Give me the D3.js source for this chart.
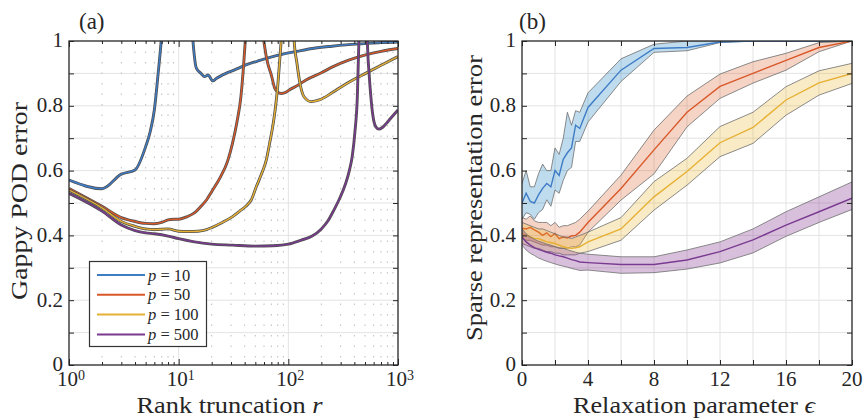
<!DOCTYPE html>
<html>
<head>
<meta charset="utf-8">
<script src="https://cdn.jsdelivr.net/npm/d3@7"></script>
<style>
  body { margin: 0; background: #fff; }
  text { font-family: "Liberation Serif", "DejaVu Serif", serif; fill: #262626; }
</style>
</head>
<body>
<div id="chart"></div>
<script>
// 1: DATA
const pValues = [10, 50, 100, 500];
const colors = ["#3f7cc6", "#d9582a", "#e6b034", "#7a3a90"];
const bandFills = ["rgba(0,114,189,0.25)", "rgba(217,83,25,0.25)", "rgba(237,177,32,0.25)", "rgba(126,47,142,0.3)"];

// (a) gappy POD error vs rank truncation r
const rankP10 = [1,2,3,4,5,5.5,6,6.5,7,8,12,13,13.5,14.5,16,17.2,18.5,20.5,22,23.6,27,32,41,55,83,120,166,250,334,500,700,1000];
const gappyP10 = [0.571,0.544,0.589,0.602,0.674,0.72,0.787,0.9,1.02,1.4,1.4,1.08,1.0,0.916,0.9,0.89,0.895,0.877,0.884,0.89,0.9,0.91,0.926,0.94,0.957,0.968,0.977,0.984,0.988,0.992,0.995,0.997];
const rankP50 = [1,2,3,4,5,6,7,8,9,10,12,14,16,18,20,24,28,31,34,37,39,40.5,45,55,58,61,65,70,75,80,86,95,102,120,145,200,253,350,506,700,1000];
const gappyP50 = [0.545,0.49,0.455,0.443,0.437,0.436,0.44,0.448,0.45,0.45,0.458,0.47,0.49,0.51,0.535,0.58,0.63,0.685,0.75,0.83,0.92,1.0,1.3,1.3,1.05,0.98,0.93,0.895,0.855,0.842,0.838,0.842,0.849,0.862,0.88,0.902,0.92,0.94,0.957,0.968,0.977];
const rankP100 = [1,2,3,4,5,6,8,10,12,15,18,20,25,31,36,41,46,51,57,63,68,72,76,80,83,86,95,108,113,120,126,139,161,191,250,290,380,506,700,1000];
const gappyP100 = [0.54,0.485,0.443,0.428,0.42,0.418,0.42,0.413,0.412,0.413,0.418,0.424,0.44,0.458,0.475,0.49,0.51,0.55,0.59,0.633,0.69,0.735,0.79,0.86,0.93,1.0,1.3,1.3,1.0,0.93,0.88,0.828,0.813,0.818,0.84,0.854,0.878,0.9,0.925,0.952];
const rankP500 = [1,2,3,4,5,6,8,10,13.5,20,31,50,72,100,130,165,200,230,260,290,333,360,383,405,426,440,460,510,526,545,565,590,628,670,720,780,850,1000];
const gappyP500 = [0.53,0.475,0.432,0.415,0.408,0.405,0.398,0.39,0.381,0.373,0.37,0.367,0.368,0.373,0.385,0.398,0.42,0.445,0.478,0.51,0.56,0.6,0.645,0.72,0.83,1.0,1.3,1.3,1.0,0.9,0.83,0.77,0.735,0.728,0.733,0.745,0.76,0.787];

// (b) sparse representation error vs relaxation parameter
const epsValues = [0,0.25,0.5,0.75,1,1.25,1.5,1.75,2,2.25,2.5,2.75,3,3.25,3.5,4,6,8,10,12,14,16,18,20];
const sparseP10   = [0.50,0.53,0.505,0.50,0.525,0.545,0.56,0.55,0.60,0.585,0.635,0.655,0.67,0.74,0.73,0.795,0.91,0.977,0.98,0.997,1,1,1,1];
const sparseP10Hi = [0.56,0.60,0.55,0.55,0.59,0.62,0.60,0.60,0.67,0.65,0.70,0.78,0.74,0.785,0.78,0.84,0.945,0.99,1,1,1,1,1,1];
const sparseP10Lo = [0.45,0.47,0.465,0.45,0.47,0.48,0.51,0.49,0.54,0.53,0.57,0.60,0.61,0.69,0.69,0.75,0.875,0.965,0.97,0.995,1,1,1,1];
const sparseP50   = [0.422,0.42,0.425,0.417,0.41,0.40,0.408,0.396,0.406,0.39,0.395,0.392,0.398,0.40,0.41,0.44,0.545,0.664,0.78,0.86,0.90,0.94,0.98,1.0];
const sparseP50Hi = [0.455,0.45,0.46,0.445,0.44,0.44,0.44,0.43,0.44,0.425,0.43,0.43,0.435,0.44,0.45,0.475,0.586,0.725,0.83,0.898,0.936,0.962,0.995,1.0];
const sparseP50Lo = [0.39,0.385,0.385,0.38,0.375,0.37,0.37,0.365,0.365,0.36,0.36,0.36,0.365,0.365,0.37,0.41,0.509,0.59,0.735,0.823,0.87,0.91,0.967,1.0];
const sparseP100   = [0.406,0.40,0.395,0.39,0.39,0.385,0.38,0.378,0.375,0.37,0.365,0.362,0.36,0.362,0.365,0.38,0.42,0.519,0.597,0.686,0.733,0.818,0.871,0.90];
const sparseP100Hi = [0.44,0.435,0.43,0.425,0.42,0.42,0.415,0.41,0.405,0.40,0.395,0.395,0.39,0.395,0.40,0.41,0.455,0.566,0.638,0.736,0.78,0.859,0.908,0.931];
const sparseP100Lo = [0.375,0.37,0.365,0.36,0.36,0.355,0.35,0.35,0.345,0.345,0.34,0.34,0.34,0.34,0.345,0.35,0.385,0.478,0.555,0.643,0.684,0.771,0.833,0.869];
const sparseP500   = [0.395,0.38,0.37,0.362,0.357,0.352,0.348,0.345,0.34,0.337,0.334,0.33,0.325,0.322,0.318,0.316,0.31,0.31,0.324,0.35,0.386,0.432,0.473,0.515];
const sparseP500Hi = [0.42,0.405,0.395,0.388,0.382,0.378,0.373,0.37,0.365,0.362,0.36,0.356,0.352,0.348,0.345,0.342,0.334,0.334,0.355,0.38,0.42,0.473,0.519,0.565];
const sparseP500Lo = [0.37,0.355,0.345,0.338,0.33,0.325,0.32,0.316,0.312,0.308,0.305,0.302,0.298,0.295,0.292,0.293,0.283,0.285,0.296,0.315,0.346,0.397,0.44,0.48];

// ticks
const yTicks = [0, 0.2, 0.4, 0.6, 0.8, 1];
const yTicksMinor = [0,0.1,0.2,0.3,0.4,0.5,0.6,0.7,0.8,0.9,1];
const rankDecades = [1, 10, 100, 1000];
const rankMinor = [2,3,4,5,6,7,8,9,20,30,40,50,60,70,80,90,200,300,400,500,600,700,800,900];
const epsTicks = [0, 4, 8, 12, 16, 20];
const epsTicksMinor = [0,2,4,6,8,10,12,14,16,18,20];

// 2: LAYOUT
const width = 863, height = 420;
const plotTop = 41, plotBottom = 365;
const plotA = { left: 69, right: 398 };
const plotB = { left: 522, right: 852 };
const axisColor = "#262626";
const gridColor = "#e3e3e3";

const svg = d3.select("#chart").append("svg")
    .attr("width", width)
    .attr("height", height);

const xA = d3.scaleLog().domain([1, 1000]).range([plotA.left, plotA.right]);
const xB = d3.scaleLinear().domain([0, 20]).range([plotB.left, plotB.right]);
const y = d3.scaleLinear().domain([0, 1]).range([plotBottom, plotTop]);

const defs = svg.append("defs");
[["clipA", plotA], ["clipB", plotB]].forEach(([id, p]) => {
    defs.append("clipPath").attr("id", id).append("rect")
        .attr("x", p.left).attr("y", plotTop)
        .attr("width", p.right - p.left).attr("height", plotBottom - plotTop);
});

function hGrid(g, p) {
    g.selectAll(null).data(yTicksMinor.slice(1, -1)).enter().append("line")
        .attr("x1", p.left).attr("x2", p.right)
        .attr("y1", d => y(d)).attr("y2", d => y(d))
        .attr("stroke", gridColor).attr("stroke-width", 1);
}

function styleAxis(g) {
    g.select(".domain").remove();
    g.selectAll("line").attr("stroke", axisColor).attr("stroke-width", 1);
}

function yAxes(p) {
    svg.append("g").attr("transform", `translate(${p.left},0)`)
        .call(d3.axisLeft(y).tickValues(yTicksMinor).tickSize(-5).tickFormat(""))
        .call(styleAxis);
    svg.append("g").attr("transform", `translate(${p.right},0)`)
        .call(d3.axisRight(y).tickValues(yTicksMinor).tickSize(-5).tickFormat(""))
        .call(styleAxis);
    svg.append("g").selectAll("text").data(yTicks).enter().append("text")
        .attr("x", p.left - 6).attr("y", d => y(d)).attr("dy", "0.3em")
        .attr("text-anchor", "end").style("font-size", "21px")
        .text(d => d3.format("~g")(d));
}

function frame(p) {
    svg.append("rect")
        .attr("x", p.left).attr("y", plotTop)
        .attr("width", p.right - p.left).attr("height", plotBottom - plotTop)
        .attr("fill", "none").attr("stroke", axisColor).attr("stroke-width", 1.3);
}

// 3: PANEL (a)
const gridA = svg.append("g");
hGrid(gridA, plotA);
gridA.selectAll(null).data(rankMinor).enter().append("line")
    .attr("x1", d => xA(d)).attr("x2", d => xA(d))
    .attr("y1", plotTop).attr("y2", plotBottom)
    .attr("stroke", "#bdbdbd").attr("stroke-width", 1).attr("stroke-dasharray", "1.5,9");
gridA.selectAll(null).data([10, 100]).enter().append("line")
    .attr("x1", d => xA(d)).attr("x2", d => xA(d))
    .attr("y1", plotTop).attr("y2", plotBottom)
    .attr("stroke", gridColor).attr("stroke-width", 1);

const seriesA = [
    { r: rankP10, v: gappyP10 },
    { r: rankP50, v: gappyP50 },
    { r: rankP100, v: gappyP100 },
    { r: rankP500, v: gappyP500 }
];
const lineA = d3.line()
    .x(d => xA(d[0]))
    .y(d => y(d[1]))
    .curve(d3.curveMonotoneX);
const linesA = svg.append("g").attr("clip-path", "url(#clipA)");
seriesA.forEach((s, i) => {
    const pts = s.r.map((r, k) => [r, s.v[k]]);
    linesA.append("path").datum(pts)
        .attr("fill", "none").attr("stroke", "#505050").attr("stroke-width", 2.9)
        .attr("d", lineA);
    linesA.append("path").datum(pts)
        .attr("fill", "none").attr("stroke", colors[i]).attr("stroke-width", 1.4)
        .attr("d", lineA);
});

// axes (a)
svg.append("g").attr("transform", `translate(0,${plotBottom})`)
    .call(d3.axisBottom(xA).tickValues(rankDecades).tickSize(-6).tickFormat(""))
    .call(styleAxis);
svg.append("g").attr("transform", `translate(0,${plotBottom})`)
    .call(d3.axisBottom(xA).tickValues(rankMinor).tickSize(-3).tickFormat(""))
    .call(styleAxis);
svg.append("g").attr("transform", `translate(0,${plotTop})`)
    .call(d3.axisTop(xA).tickValues(rankDecades).tickSize(-6).tickFormat(""))
    .call(styleAxis);
svg.append("g").attr("transform", `translate(0,${plotTop})`)
    .call(d3.axisTop(xA).tickValues(rankMinor).tickSize(-3).tickFormat(""))
    .call(styleAxis);
yAxes(plotA);
frame(plotA);

const xLabA = svg.append("g").selectAll("text").data(rankDecades).enter().append("text")
    .attr("x", d => xA(d) + 2).attr("y", 386)
    .attr("text-anchor", "middle").style("font-size", "21px");
xLabA.append("tspan").text("10");
xLabA.append("tspan").attr("dy", "-0.45em").style("font-size", "14px")
    .text(d => Math.round(Math.log10(d)));

// legend
const legend = svg.append("g");
legend.append("rect")
    .attr("x", 89.5).attr("y", 261.5).attr("width", 117).attr("height", 85)
    .attr("fill", "#fff").attr("stroke", "#333").attr("stroke-width", 1.2);
const legRows = legend.selectAll("g").data(pValues).enter().append("g")
    .attr("transform", (d, i) => `translate(0,${275 + i * 19.8})`);
legRows.append("line")
    .attr("x1", 97).attr("x2", 145).attr("y1", 0).attr("y2", 0)
    .attr("stroke", (d, i) => colors[i]).attr("stroke-width", 2);
const legText = legRows.append("text")
    .attr("x", 148).attr("y", 5.5).style("font-size", "16.5px");
legText.append("tspan").style("font-style", "italic").text("p");
legText.append("tspan").text(d => " = " + d);

// 4: PANEL (b)
const gridB = svg.append("g");
hGrid(gridB, plotB);
gridB.selectAll(null).data(epsTicksMinor.slice(1, -1)).enter().append("line")
    .attr("x1", d => xB(d)).attr("x2", d => xB(d))
    .attr("y1", plotTop).attr("y2", plotBottom)
    .attr("stroke", gridColor).attr("stroke-width", 1);

const seriesB = [
    { v: sparseP10, lo: sparseP10Lo, hi: sparseP10Hi },
    { v: sparseP50, lo: sparseP50Lo, hi: sparseP50Hi },
    { v: sparseP100, lo: sparseP100Lo, hi: sparseP100Hi },
    { v: sparseP500, lo: sparseP500Lo, hi: sparseP500Hi }
];
const areaB = d3.area()
    .x((d, k) => xB(epsValues[k]))
    .y0(d => y(d[0]))
    .y1(d => y(d[1]));
const lineB = d3.line()
    .x((d, k) => xB(epsValues[k]))
    .y(d => y(d));
const marksB = svg.append("g").attr("clip-path", "url(#clipB)");
seriesB.forEach((s, i) => {
    const band = s.lo.map((lo, k) => [lo, s.hi[k]]);
    marksB.append("path").datum(band)
        .attr("fill", bandFills[i]).attr("stroke", "none")
        .attr("d", areaB);
    [s.lo, s.hi].forEach(edge => {
        marksB.append("path").datum(edge)
            .attr("fill", "none").attr("stroke", "#6e6e6e").attr("stroke-width", 0.8)
            .attr("d", lineB);
    });
    marksB.append("path").datum(s.v)
        .attr("fill", "none").attr("stroke", colors[i]).attr("stroke-width", 1.4)
        .attr("d", lineB);
});

svg.append("g").attr("transform", `translate(0,${plotBottom})`)
    .call(d3.axisBottom(xB).tickValues(epsTicksMinor).tickSize(-5).tickFormat(""))
    .call(styleAxis);
svg.append("g").attr("transform", `translate(0,${plotTop})`)
    .call(d3.axisTop(xB).tickValues(epsTicksMinor).tickSize(-5).tickFormat(""))
    .call(styleAxis);
yAxes(plotB);
frame(plotB);

svg.append("g").selectAll("text").data(epsTicks).enter().append("text")
    .attr("x", d => xB(d)).attr("y", 386)
    .attr("text-anchor", "middle").style("font-size", "21px")
    .text(d => d);

// 5: LABELS
svg.append("text").attr("x", 79).attr("y", 29).style("font-size", "23px").text("(a)");
svg.append("text").attr("x", 519).attr("y", 29).style("font-size", "23px").text("(b)");

const xTitleA = svg.append("text")
    .attr("x", (plotA.left + plotA.right) / 2 - 4).attr("y", 413)
    .attr("text-anchor", "middle").style("font-size", "24px")
    .attr("textLength", 186).attr("lengthAdjust", "spacingAndGlyphs");
xTitleA.append("tspan").text("Rank truncation ");
xTitleA.append("tspan").style("font-style", "italic").text("r");

const xTitleB = svg.append("text")
    .attr("x", 694).attr("y", 413)
    .attr("text-anchor", "middle").style("font-size", "24px")
    .attr("textLength", 242).attr("lengthAdjust", "spacingAndGlyphs");
xTitleB.append("tspan").text("Relaxation parameter ");
xTitleB.append("tspan").style("font-style", "italic").text("ϵ");

svg.append("text")
    .attr("transform", `translate(27,${(plotTop + plotBottom) / 2 - 2}) rotate(-90)`)
    .attr("text-anchor", "middle").style("font-size", "24px")
    .attr("textLength", 198).attr("lengthAdjust", "spacingAndGlyphs")
    .text("Gappy POD error");

svg.append("text")
    .attr("transform", `translate(482,${(plotTop + plotBottom) / 2 - 5}) rotate(-90)`)
    .attr("text-anchor", "middle").style("font-size", "24px")
    .attr("textLength", 286).attr("lengthAdjust", "spacingAndGlyphs")
    .text("Sparse representation error");
</script>
</body>
</html>
